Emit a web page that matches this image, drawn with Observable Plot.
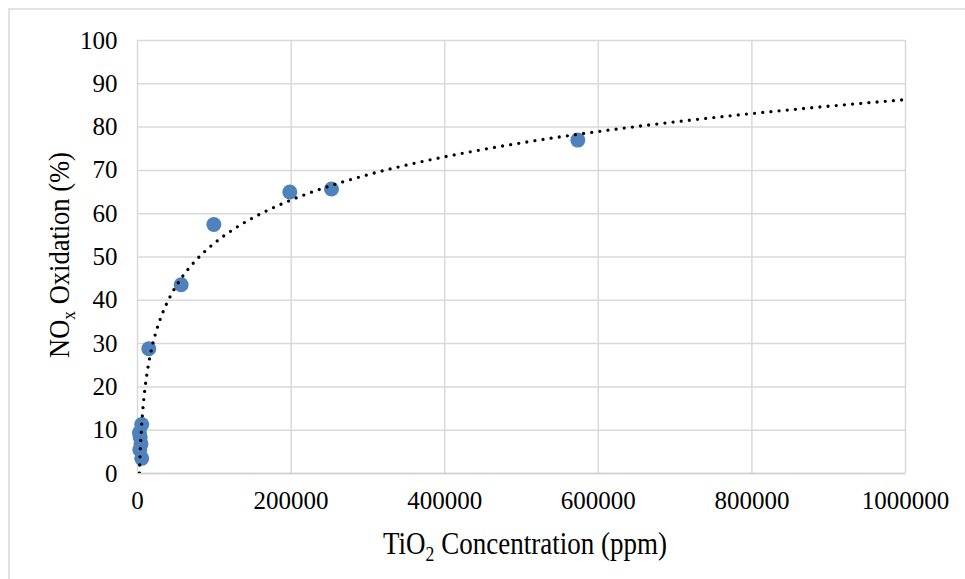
<!DOCTYPE html>
<html>
<head>
<meta charset="utf-8">
<script src="https://cdn.jsdelivr.net/npm/d3@7"></script>
<script src="https://cdn.jsdelivr.net/npm/@observablehq/plot@0.6"></script>
<style>
  html, body { margin: 0; padding: 0; background: #fff; }
  #chart { width: 965px; height: 579px; overflow: hidden; }
  #chart svg, #chart svg text { font-family: "Liberation Serif", "DejaVu Serif", serif !important; }
</style>
</head>
<body>
<div id="chart"></div>
<script>
// TiO2 concentration (ppm)
const concentration = [5500, 2500, 3500, 4500, 3000, 5500, 14700, 56900, 99400, 198300, 252600, 573300];
// NOx oxidation (%)
const oxidation = [11.3, 9.4, 8.3, 6.8, 5.5, 3.5, 28.8, 43.6, 57.5, 65.0, 65.7, 77.0];
// Logarithmic trendline coefficients: y = slope * ln(x) + intercept
const trendSlope = 14.4;
const trendIntercept = -112.6;
const xTicks = [0, 200000, 400000, 600000, 800000, 1000000];
const yTicks = [0, 10, 20, 30, 40, 50, 60, 70, 80, 90, 100];

const points = concentration.map((x, i) => ({x, y: oxidation[i]}));

const xStart = d3.min(concentration);
const xEnd = 1000000;
const nSteps = 300;
const trend = d3.range(nSteps + 1).map(i => {
  const x = Math.exp(Math.log(xStart) + (Math.log(xEnd) - Math.log(xStart)) * i / nSteps);
  return {x, y: trendSlope * Math.log(x) + trendIntercept};
});

const W = 965, H = 579;
const font = "Liberation Serif, DejaVu Serif, serif";

const plot = Plot.plot({
  width: W,
  height: H,
  marginLeft: 137,
  marginRight: 60,
  marginTop: 40,
  marginBottom: 106,
  style: {fontFamily: font, fontSize: "25px", color: "#000", background: "#fff"},
  x: {domain: [0, 1000000], ticks: xTicks, tickFormat: d => String(d), label: null},
  y: {domain: [0, 100], ticks: yTicks, tickFormat: d => String(d), label: null},
  marks: [
    Plot.gridX(xTicks, {stroke: "#d9d9d9", strokeOpacity: 1, strokeWidth: 1.5}),
    Plot.gridY(yTicks, {stroke: "#d9d9d9", strokeOpacity: 1, strokeWidth: 1.5}),
    Plot.ruleY([0], {stroke: "#d0d0d0", strokeWidth: 1.5}),
    Plot.axisX(xTicks, {tickSize: 0, tickPadding: 18, fontSize: 25, fill: "#000", label: null, tickFormat: d => String(d)}),
    Plot.axisY(yTicks, {tickSize: 0, tickPadding: 20, fontSize: 25, fill: "#000", label: null, tickFormat: d => String(d)}),
    Plot.dot(points, {x: "x", y: "y", r: 7.5, fill: "#4F81BD", stroke: "none"}),
    Plot.line(trend, {x: "x", y: "y", stroke: "#000", strokeWidth: 3.3, strokeLinecap: "round",
      strokeDasharray: "0 8.2", clip: true})
  ]
});

document.getElementById("chart").appendChild(plot);

const svg = d3.select(plot);
// outer chart border
svg.insert("rect", ":first-child")
  .attr("x", 9).attr("y", 9).attr("width", W + 10).attr("height", H + 10)
  .attr("fill", "none").attr("stroke", "#d9d9d9").attr("stroke-width", 1.5);

// title with subscript, horizontally condensed to a target width like the reference
function title(parts, size, subSize, subDy, cx, cy, rotate, targetWidth) {
  const g = svg.append("g");
  const t = g.append("text")
    .attr("text-anchor", "middle")
    .attr("font-size", size).attr("fill", "#000");
  t.append("tspan").text(parts[0]);
  t.append("tspan").attr("font-size", subSize).attr("dy", subDy).text(parts[1]);
  t.append("tspan").attr("dy", -subDy).text(parts[2]);
  const w = t.node().getComputedTextLength() || targetWidth;
  const sx = targetWidth / w;
  g.attr("transform", `translate(${cx},${cy}) rotate(${rotate})`);
  t.attr("transform", `scale(${sx},1)`);
}

title(["TiO", "2", " Concentration (ppm)"], 32, 21, 7, 525, 554, 0, 284);
title(["NO", "x", " Oxidation (%)"], 29, 19, 6, 68.5, 255, -90, 206);
</script>
</body>
</html>
